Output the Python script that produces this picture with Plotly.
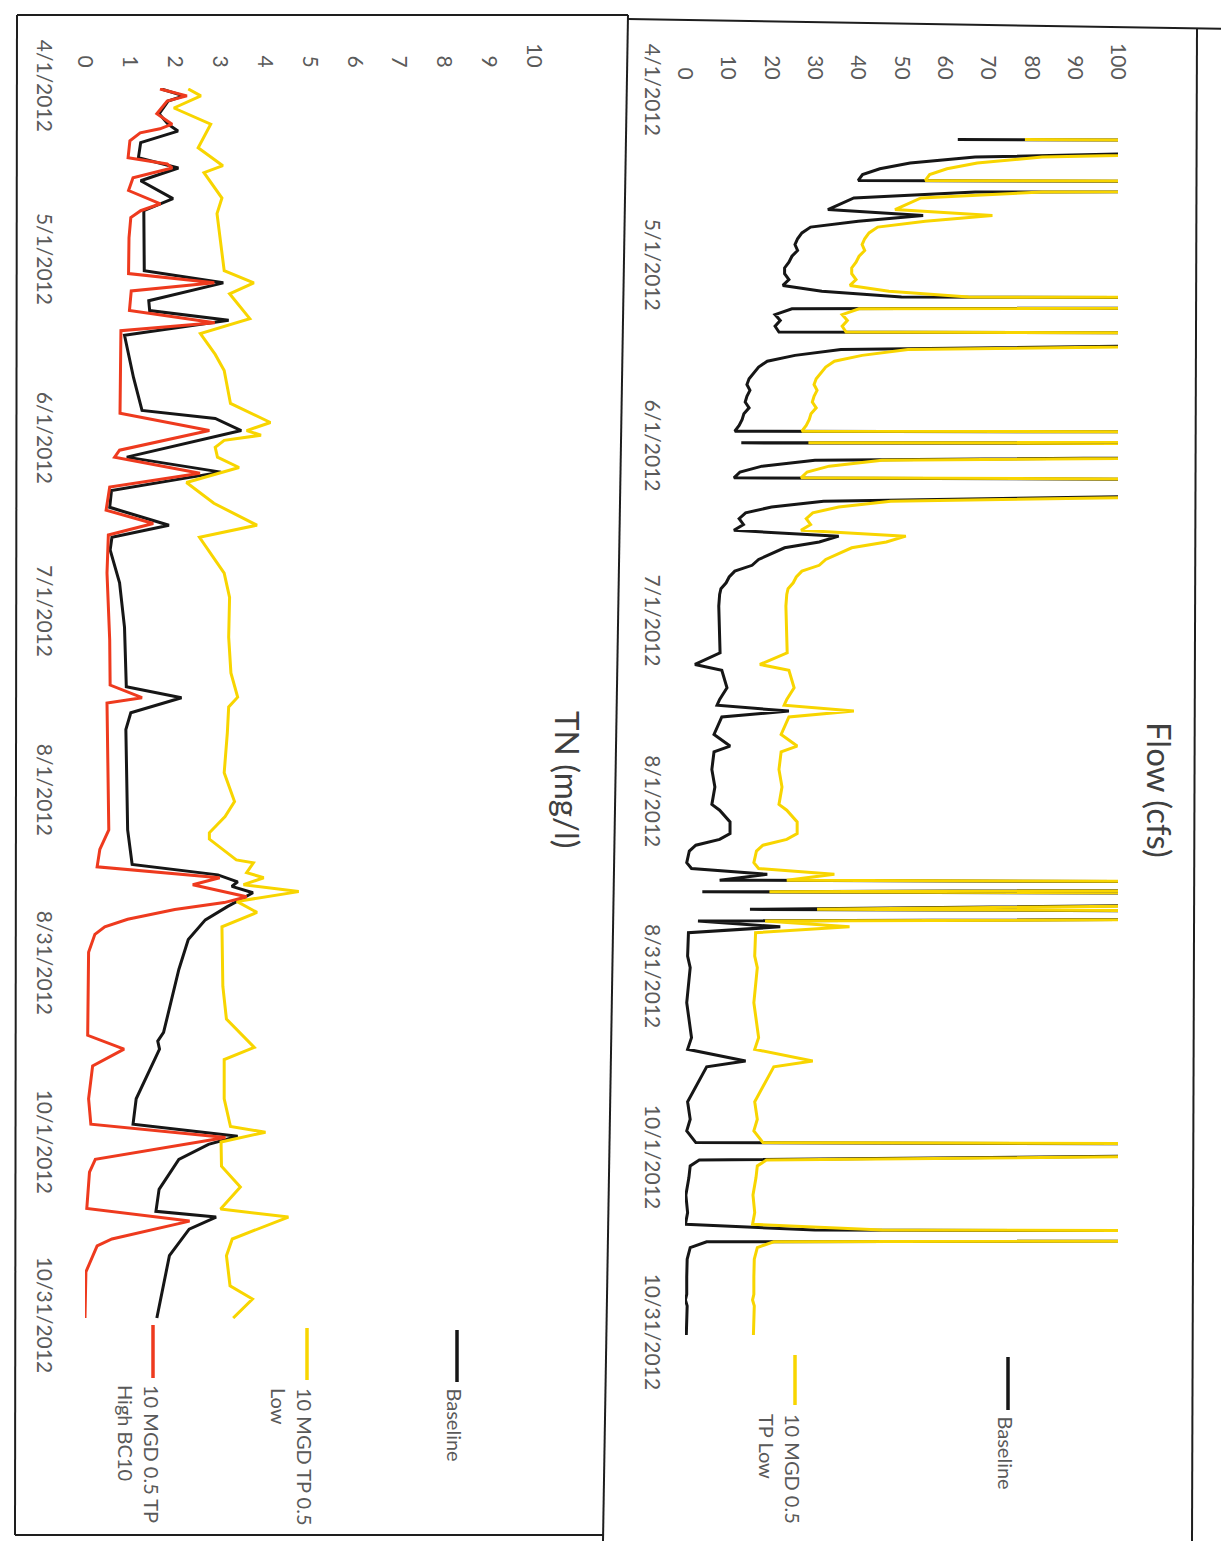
import pandas as pd
import plotly.graph_objects as go

START = pd.Timestamp("2012-04-01")

# ---------------- Flow (cfs) : day offset from 4/1/2012 ----------------
flow_days = [8, 9, 10, 11, 12, 13, 14, 15, 16, 17, 18, 19, 20, 21, 22, 23, 24, 25, 26, 27,
             28, 29, 30, 31, 32, 33, 34, 35, 36, 37, 38, 39, 40, 41, 42, 43, 44, 45, 46, 47,
             48, 49, 50, 51, 52, 53, 54, 55, 56, 57, 58, 59, 60, 61, 62, 63, 64, 65, 66, 67,
             68, 69, 70, 71, 72, 73, 74, 75, 76, 77, 78, 79, 80, 81, 82, 83, 84, 85, 86, 88,
             92, 96, 98, 99, 102, 104, 105, 106, 107, 110, 112, 113, 116, 119, 122, 123, 125, 127, 128, 129,
             130, 132, 133, 134, 135, 136, 137, 138, 139, 140, 141, 142, 143, 144, 148, 150, 156, 162, 164, 166,
             167, 171, 173, 176, 178, 180, 181, 182, 183, 184, 186, 189, 192, 194, 195, 196, 197, 198, 200, 203,
             206, 207, 208, 213]
flow_baseline = [63, 500, 130, 67, 52, 45, 41, 40, 500, 67, 39, 36, 33, 55, 40, 29, 27, 26, 25.4, 26,
                 24.7, 24, 23, 23, 24, 22.6, 31.6, 50, 800, 24.7, 20.8, 22, 20.8, 21.7, 600, 150, 36, 25.4, 19, 17,
                 16, 14.8, 14.3, 15, 14.3, 13.9, 14.8, 13.6, 13.2, 12.5, 11.5, 800, 13, 700, 200, 30, 17.8, 12.7, 11.3, 400,
                 500, 120, 32, 20, 14, 12.5, 13.5, 11.3, 35.5, 31, 23, 20, 17, 15.5, 11.5, 10.2, 9.5, 8.3, 8, 7.8,
                 7.9, 8.1, 2.3, 8.5, 9.7, 8, 7.4, 24, 8.5, 6.7, 10.4, 6.7, 6.2, 6.9, 6.2, 8, 10.4, 10.4, 8, 2.5,
                 1, 0.4, 1.5, 19, 8, 400, 4, 500, 150, 15, 400, 3, 22, 0.8, 0.6, 1.2, 0.4, 1.5, 0.6, 14,
                 5, 2, 0.6, 1.2, 0.4, 2.5, 500, 150, 3.3, 1.2, 0.9, 0.2, 0.6, 0.1, 30, 800, 5, 1.2, 0.5, 0.4,
                 0.4, 0.1, 0.5, 0.3]
flow_10mgd_low = [78.5, 520, 150, 82.5, 67.5, 60.5, 56.5, 55.5, 520, 82.5, 54.5, 51.5, 48.5, 71, 55.5, 44.5, 42.5, 41.5, 40.9, 41.5,
                  40.2, 39.5, 38.5, 38.5, 39.5, 38.1, 47.1, 65.5, 820, 40.2, 36.3, 37.5, 36.3, 37.2, 620, 165, 51.5, 40.9, 34.5, 32.5,
                  31.5, 30.3, 29.8, 30.5, 29.8, 29.4, 30.3, 29.1, 28.7, 28, 27, 820, 28.5, 720, 215, 45.5, 33.3, 28.2, 26.8, 420,
                  520, 135, 47.5, 35.5, 29.5, 28, 29, 26.8, 51, 46.5, 38.5, 35.5, 32.5, 31, 27, 25.7, 25, 23.8, 23.5, 23.3,
                  23.4, 23.6, 17.3, 24, 25.2, 23.5, 22.9, 39, 24, 22.2, 25.9, 22.2, 21.7, 22.4, 21.7, 23.5, 25.9, 25.9, 23.5, 18,
                  16.5, 15.9, 17, 34.5, 23.5, 420, 19.5, 520, 165, 30.5, 420, 18.5, 38, 16.3, 16.1, 16.7, 15.9, 17, 16.1, 29.5,
                  20.5, 17.5, 16.1, 16.7, 15.9, 18, 520, 165, 18.8, 16.7, 16.4, 15.7, 16.1, 15.6, 45.5, 820, 20.5, 16.7, 16, 15.9,
                  15.9, 15.6, 16, 15.8]

# ---------------- TN (mg/l) ----------------
tn_base_days = [0, 1.2, 2.1, 4.3, 6.1, 7.3, 9.3, 11.9, 13.7, 15.9, 19.0, 21.1, 31.5, 33.6, 36.7, 38.4, 40.1, 42.7, 50, 55.7,
                57.1, 59.2, 63.8, 66.4, 69.6, 72.5, 75.6, 77.7, 79.9, 85.6, 93.3, 103.6, 105.5, 108.1, 111.0, 118.5, 128.4, 134.4, 136.2, 137.4,
                138.2, 139.3, 141.7, 144.0, 147.4, 152.6, 163.5, 165.0, 166.4, 175.0, 179.4, 181.5, 182.9, 185.5, 190.7, 194.5, 195.5, 197.6, 202.2, 213.0]
tn_baseline = [1.7, 2.2, 1.85, 1.65, 1.85, 2.07, 1.24, 1.19, 2.08, 1.24, 1.96, 1.31, 1.32, 3.08, 1.42, 1.44, 3.2, 0.88, 1.08, 1.27,
               2.9, 3.48, 0.93, 3.03, 0.59, 0.55, 1.87, 0.6, 0.56, 0.77, 0.88, 0.92, 2.15, 1.02, 0.91, 0.92, 0.95, 1.05, 2.96, 3.4,
               3.27, 3.74, 3.17, 2.68, 2.3, 2.09, 1.75, 1.62, 1.66, 1.14, 1.07, 3.4, 2.75, 2.09, 1.65, 1.58, 2.92, 2.32, 1.88, 1.6]

tn_low_days = [0, 1.2, 3.3, 6.1, 10.2, 13.3, 14.5, 18.9, 21.6, 31.5, 33.6, 35.5, 39.8, 42.4, 46, 48.8, 54.5, 57.8, 59.2, 60.0,
               60.9, 62.1, 63.8, 65.6, 68.2, 71.8, 75.6, 77.7, 83.9, 88.1, 95, 101.2, 105.4, 107.1, 111.6, 118.5, 123.5, 126.1, 128.9, 130.0,
               133.6, 134.1, 135.8, 136.7, 137.9, 139.1, 140.8, 142.7, 145.2, 155.5, 161.2, 166.1, 168.2, 175.0, 179.8, 180.8, 182.5, 186.7, 190.3, 194.1,
               195.5, 199.3, 202.2, 207.4, 209.7, 213.0]
tn_10mgd_low = [2.3, 2.58, 1.98, 2.8, 2.52, 3.07, 2.65, 3.05, 2.94, 3.1, 3.76, 3.22, 3.67, 2.57, 2.9, 3.1, 3.24, 4.13, 3.6, 3.92,
                3.1, 2.9, 2.95, 3.43, 2.26, 2.87, 3.83, 2.55, 3.1, 3.22, 3.2, 3.25, 3.4, 3.2, 3.17, 3.1, 3.33, 3.12, 2.77, 2.77,
                3.37, 3.75, 3.6, 3.98, 3.53, 4.76, 3.38, 3.83, 3.05, 3.07, 3.15, 3.77, 3.1, 3.1, 3.24, 4.02, 3.03, 3.04, 3.46, 3.02,
                4.53, 3.28, 3.15, 3.23, 3.73, 3.3]

tn_high_days = [0, 1.2, 2.1, 4.3, 6.1, 6.9, 7.6, 9.0, 11.9, 13.0, 13.7, 15.4, 17.6, 18.5, 19.9, 21.1, 22.3, 25.8, 32.0, 33.6,
                35.0, 38.4, 40.5, 41.9, 56.2, 59.2, 62.6, 63.8, 66.6, 69.0, 73.0, 75.3, 77.3, 83.9, 95.5, 103.3, 105.5, 106.4, 118.5, 128.4,
                131.8, 134.8, 136.7, 137.9, 140.0, 141.0, 142.2, 143.9, 145.2, 146.5, 149.6, 164.0, 166.4, 169.3, 175.0, 179.4, 181.7, 183.2, 184.6, 185.5,
                187.7, 194.0, 196.2, 198.0, 199.3, 200.5, 205.0, 213.0]
tn_10mgd_high = [1.67, 2.27, 1.83, 1.6, 1.94, 1.67, 1.23, 1.0, 0.96, 1.83, 1.94, 1.07, 0.97, 1.24, 1.68, 1.24, 1.02, 0.98, 0.97, 2.88,
                 1.03, 0.99, 2.89, 0.8, 0.78, 2.77, 0.77, 0.66, 2.56, 0.55, 0.47, 1.52, 0.52, 0.49, 0.55, 0.56, 1.27, 0.49, 0.51, 0.53,
                 0.33, 0.27, 3.0, 2.4, 3.6, 3.1, 2.0, 0.95, 0.44, 0.22, 0.08, 0.06, 0.87, 0.17, 0.08, 0.13, 3.13, 2.0, 0.95, 0.23,
                 0.1, 0.04, 2.33, 1.35, 0.6, 0.27, 0.02, 0.0]

# ---------------- ticks ----------------
date_tickvals = ["2012-04-01", "2012-05-01", "2012-06-01", "2012-07-01",
                 "2012-08-01", "2012-08-31", "2012-10-01", "2012-10-31"]
date_ticktext = ["4/1/2012", "5/1/2012", "6/1/2012", "7/1/2012",
                 "8/1/2012", "8/31/2012", "10/1/2012", "10/31/2012"]
flow_ticks = [0, 10, 20, 30, 40, 50, 60, 70, 80, 90, 100]
tn_ticks = [0, 1, 2, 3, 4, 5, 6, 7, 8, 9, 10]

series_names = ["Baseline", "10 MGD 0.5 TP Low", "10 MGD TP 0.5 Low", "10 MGD 0.5 TP High BC10"]


def to_dates(days):
    return [START + pd.Timedelta(days=d) for d in days]


# the page body keeps its default 8px margin, so the figure starts at (8, 8)
OFF = 8
W, H = 1229 - OFF, 1541 - OFF
def px(x):
    return (x - OFF) / W
def py(y):
    return 1 - (y - OFF) / H

BLACK = "#161616"
YELLOW = "#F8D500"
RED = "#EE3A1E"
TICK_FONT = dict(family="Lato, Liberation Sans, sans-serif", size=21, color="#5a5a5a")
NOTICK = "rgba(0,0,0,0)"

fig = go.Figure()

# TN panel (left)
fig.add_trace(go.Scatter(x=tn_baseline, y=to_dates(tn_base_days), mode="lines",
                         line=dict(color=BLACK, width=3), xaxis="x", yaxis="y", name=series_names[0]))
fig.add_trace(go.Scatter(x=tn_10mgd_low, y=to_dates(tn_low_days), mode="lines",
                         line=dict(color=YELLOW, width=3), xaxis="x", yaxis="y", name=series_names[2]))
fig.add_trace(go.Scatter(x=tn_10mgd_high, y=to_dates(tn_high_days), mode="lines",
                         line=dict(color=RED, width=3), xaxis="x", yaxis="y", name=series_names[3]))
# Flow panel (right)
fig.add_trace(go.Scatter(x=flow_baseline, y=to_dates(flow_days), mode="lines",
                         line=dict(color=BLACK, width=3), xaxis="x2", yaxis="y2", name=series_names[0]))
fig.add_trace(go.Scatter(x=flow_10mgd_low, y=to_dates(flow_days), mode="lines",
                         line=dict(color=YELLOW, width=3), xaxis="x2", yaxis="y2", name=series_names[1]))

yrange = [pd.Timestamp("2012-10-31 04:00"), pd.Timestamp("2012-03-31 20:00")]

common_x = dict(side="top", showgrid=False, zeroline=False, showline=False, ticks="outside",
                tickcolor=NOTICK, tickangle=90, tickfont=TICK_FONT, fixedrange=True, automargin=False)
common_y = dict(type="date", showgrid=False, zeroline=False, showline=False, ticks="outside",
                tickcolor=NOTICK, tickangle=90, tickfont=TICK_FONT, tickvals=date_tickvals,
                ticktext=date_ticktext, range=yrange, automargin=False)

fig.update_layout(
    template="none",
    width=W, height=H, margin=dict(l=0, r=0, t=0, b=0, autoexpand=False),
    paper_bgcolor="white", plot_bgcolor="rgba(0,0,0,0)", showlegend=False,
    xaxis=dict(domain=[px(85), px(534)], range=[0, 10], tickvals=tn_ticks, anchor="y",
               ticklen=12, **common_x),
    yaxis=dict(domain=[py(1319), py(88)], anchor="x", ticklen=22, **common_y),
    xaxis2=dict(domain=[px(685), px(1118)], range=[0, 100], tickvals=flow_ticks, anchor="y2",
                ticklen=4, **common_x),
    yaxis2=dict(domain=[py(1336), py(92)], anchor="x2", ticklen=14, **common_y),
)

# panel borders
border = dict(color="#1e1e1e", width=2)
for (x0, y0, x1, y1) in [(17, 15, 628, 15), (17, 15, 15, 1535), (15, 1535, 603, 1535), (628, 15, 603, 1541),
                         (628, 19, 1229, 29), (1197, 28, 1192, 1541)]:
    fig.add_shape(type="line", xref="paper", yref="paper", x0=px(x0), y0=py(y0), x1=px(x1), y1=py(y1), line=border)

# titles
TITLE_FONT = dict(family="Lato, Liberation Sans, sans-serif", size=33, color="#404040")
fig.add_annotation(text="Flow (cfs)", x=px(1160), y=py(790), xref="paper", yref="paper",
                   textangle=90, showarrow=False, font=TITLE_FONT, xanchor="center", yanchor="middle")
fig.add_annotation(text="TN (mg/l)", x=px(568), y=py(780), xref="paper", yref="paper",
                   textangle=90, showarrow=False, font=TITLE_FONT, xanchor="center", yanchor="middle")

# legends (rotated)
LEG_FONT = dict(family="Lato, Liberation Sans, sans-serif", size=20, color="#595959")
legend_items = [
    # x_line, y_top, y_bot, color, text, text_x, text_y
    (1008, 1357, 1410, BLACK, "Baseline", 1006, 1414),
    (795, 1355, 1405, YELLOW, "10 MGD 0.5<br>TP Low", 780, 1412),
    (457, 1330, 1382, BLACK, "Baseline", 455, 1387),
    (307, 1328, 1380, YELLOW, "10 MGD TP 0.5<br>Low", 292, 1386),
    (153, 1325, 1378, RED, "10 MGD 0.5 TP<br>High BC10", 139, 1383),
]
for xl, yt, yb, col, txt, tx, ty in legend_items:
    fig.add_shape(type="line", xref="paper", yref="paper", x0=px(xl), x1=px(xl), y0=py(yt), y1=py(yb),
                  line=dict(color=col, width=3.5))
    fig.add_annotation(text=txt, x=px(tx), y=py(ty), xref="paper", yref="paper", textangle=90,
                       showarrow=False, font=LEG_FONT, align="left", xanchor="center", yanchor="top")

fig.write_html("out.html")
